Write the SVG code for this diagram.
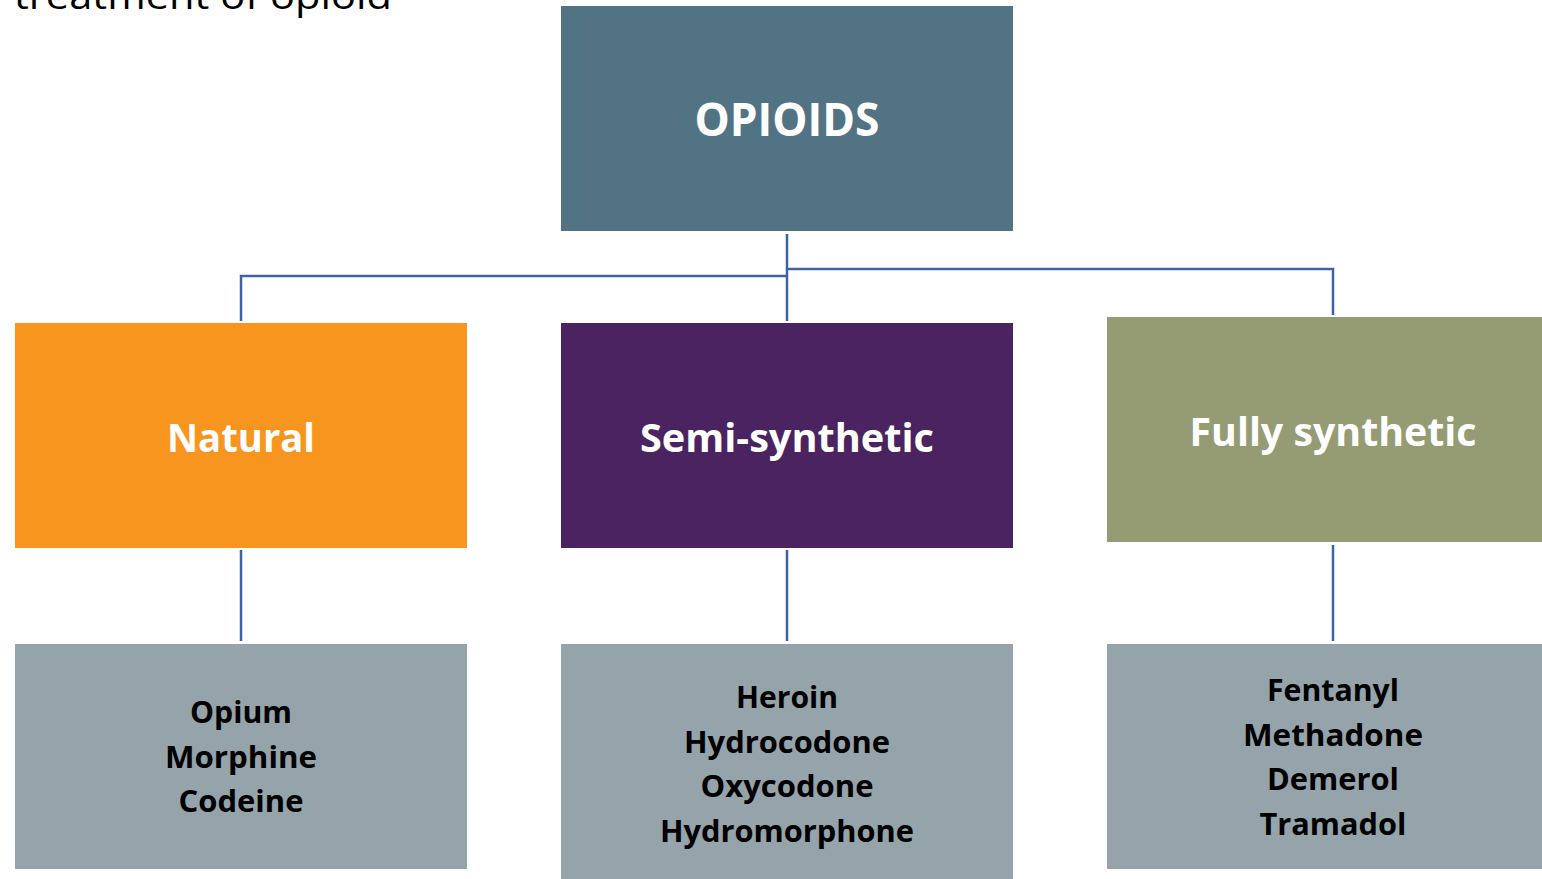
<svg xmlns="http://www.w3.org/2000/svg" width="1542" height="879" viewBox="0 0 1542 879">
<style>
.t{font-family:"Open Sans","Liberation Sans",sans-serif;font-weight:700;text-anchor:middle}
.w{fill:#ffffff}
.k{fill:#000000;font-size:30px}
.c{stroke:#3C63A6;stroke-width:2.5;fill:none}
</style>
<rect width="1542" height="879" fill="#ffffff"/>
<text x="14" y="9" font-family="'Open Sans','Liberation Sans',sans-serif" font-size="36" fill="#000" textLength="378" lengthAdjust="spacingAndGlyphs">treatment of opioid</text>
<g id="connectors">
<path class="c" d="M787,234 V321 M787,276 H241 V321 M787,269 H1333 V315"/>
<path class="c" d="M241,550 V641 M787,550 V641 M1333,545 V641"/>
</g>
<g id="opioids">
<rect x="561" y="6" width="452" height="225" fill="#517384"/>
<text class="t w" x="787" y="136" font-size="47" textLength="185" lengthAdjust="spacingAndGlyphs">OPIOIDS</text>
</g>
<g id="natural">
<rect x="15" y="323" width="452" height="225" fill="#F7951E"/>
<text class="t w" x="241" y="452" font-size="40" textLength="148" lengthAdjust="spacingAndGlyphs">Natural</text>
</g>
<g id="semi">
<rect x="561" y="323" width="452" height="225" fill="#4B2360"/>
<text class="t w" x="787" y="452" font-size="40" textLength="294" lengthAdjust="spacingAndGlyphs">Semi-synthetic</text>
</g>
<g id="fully">
<rect x="1107" y="317" width="435" height="225" fill="#959C73"/>
<text class="t w" x="1333" y="446" font-size="40" textLength="287" lengthAdjust="spacingAndGlyphs">Fully synthetic</text>
</g>
<g id="natural-list">
<rect x="15" y="644" width="452" height="225" fill="#95A3AA"/>
<text class="t k" x="241" y="723" textLength="102" lengthAdjust="spacingAndGlyphs">Opium</text>
<text class="t k" x="241" y="768" textLength="152" lengthAdjust="spacingAndGlyphs">Morphine</text>
<text class="t k" x="241" y="812" textLength="125" lengthAdjust="spacingAndGlyphs">Codeine</text>
</g>
<g id="semi-list">
<rect x="561" y="644" width="452" height="235" fill="#95A3AA"/>
<text class="t k" x="787" y="708" textLength="102" lengthAdjust="spacingAndGlyphs">Heroin</text>
<text class="t k" x="787" y="753" textLength="206" lengthAdjust="spacingAndGlyphs">Hydrocodone</text>
<text class="t k" x="787" y="797" textLength="173" lengthAdjust="spacingAndGlyphs">Oxycodone</text>
<text class="t k" x="787" y="842" textLength="254" lengthAdjust="spacingAndGlyphs">Hydromorphone</text>
</g>
<g id="fully-list">
<rect x="1107" y="644" width="435" height="225" fill="#95A3AA"/>
<text class="t k" x="1333" y="701" textLength="132" lengthAdjust="spacingAndGlyphs">Fentanyl</text>
<text class="t k" x="1333" y="746" textLength="180" lengthAdjust="spacingAndGlyphs">Methadone</text>
<text class="t k" x="1333" y="790" textLength="132" lengthAdjust="spacingAndGlyphs">Demerol</text>
<text class="t k" x="1333" y="835" textLength="147" lengthAdjust="spacingAndGlyphs">Tramadol</text>
</g>
</svg>
